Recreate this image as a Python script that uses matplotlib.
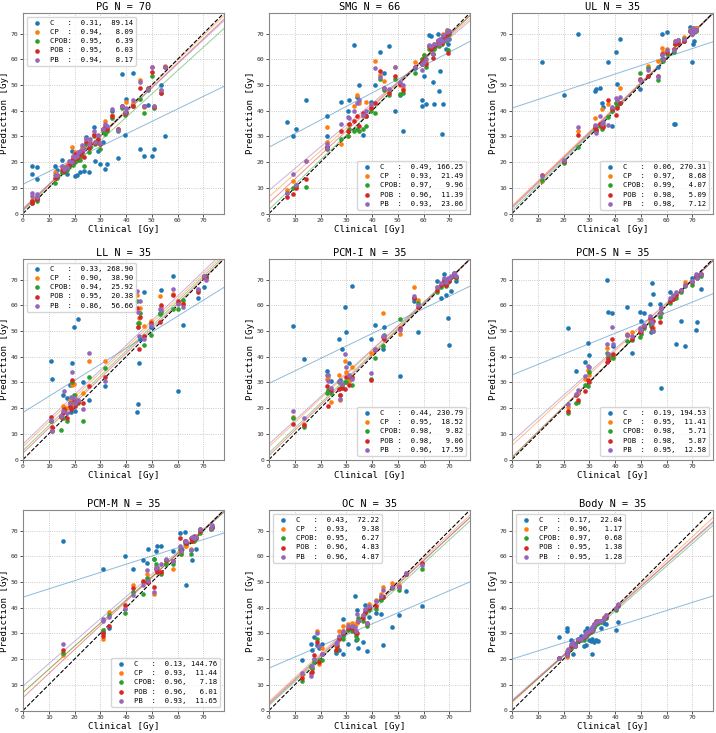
import numpy as np
import matplotlib
matplotlib.use("Agg")
import matplotlib.pyplot as plt

plt.rcParams['font.family'] = ['DejaVu Sans Mono']

# ── series ────────────────────────────────────────────────────────────────────
SERIES = ["C", "CP", "CPOB", "POB", "PB"]
COLORS = ["#1f77b4", "#ff7f0e", "#2ca02c", "#d62728", "#9467bd"]

# ── PG ────────────────────────────────────────────────────────────────────────
pg_x    = [3.5, 3.5, 5.5, 5.5, 12.5, 13, 15, 16, 17, 18, 19, 19.5, 20, 21, 21.5, 22, 23, 23.5, 24.5, 25.5,
           26, 27.5, 28, 29, 30, 31, 32, 32.5, 34.5, 37, 38.5, 39.5, 40, 42.5, 45.5, 47, 48.5, 50, 50.7, 53.5, 55]
pg_c    = [18.5, 15.2, 18.1, 13.3, 18.5, 17, 21, 18, 15.2, 19, 24.4, 22, 14.5, 15, 22.5, 16, 25, 16.5, 29.9, 16,
           26, 33.5, 20.3, 24.5, 19.4, 28, 17.5, 19.4, 40, 21.4, 54.4, 30.7, 44.7, 54.5, 25, 22.3, 42.4, 22.3, 25, 50, 30]
pg_cp   = [5.2, 4.5, 6, 7, 16, 15, 18, 17, 19, 20, 26, 22, 24, 22, 23.5, 24, 26, 26, 29, 27,
           28, 31, 28, 30, 27, 33, 36, 33, 38.5, 33, 42, 39, 43.5, 43, 52, 41.5, 48.5, 57, 42, 48, 57.5]
pg_cpob = [4.5, 4, 5, 5.5, 12, 14, 16, 16, 17, 18, 20, 19, 20, 21, 21, 21, 22.5, 18.5, 27, 24,
           26, 30, 27, 28, 25, 32, 31, 32, 37, 32, 41, 38.5, 39, 42, 44.5, 39, 48, 53.5, 41, 47, 57]
pg_pob  = [4.8, 4.2, 5.5, 6, 14, 14.5, 17, 16.5, 18, 19, 21, 20, 23, 21.5, 22, 23, 24, 22, 28, 25.5,
           27, 30.5, 27.5, 29, 27, 33, 34, 33, 38, 33, 42, 39, 39.5, 42, 49, 42, 49, 55, 41.5, 47, 57]
pg_pb   = [6.7, 8, 7.5, 6.5, 15, 15, 18.5, 17.5, 18, 20.5, 20, 22.5, 22, 22.5, 24, 24.5, 26.5, 25, 29, 27,
           29, 32, 28, 30.5, 27.6, 33, 35, 34, 40.5, 32.5, 42, 39.5, 41, 44, 51, 42, 48.5, 57, 42, 48, 57]
pg_b    = [11.4, 1.5, 1.0, 1.5, 2.0]
pg_m    = [0.488, 0.968, 0.91, 0.95, 0.936]
pg_r    = [0.31, 0.94, 0.95, 0.95, 0.94]
pg_mse  = [89.14, 8.09, 6.39, 6.03, 8.17]

# ── SMG ───────────────────────────────────────────────────────────────────────
smg_x    = [7, 9.5, 10.5, 14.5, 22.5, 22.5, 28, 30.5, 31, 33, 34, 35, 36.5, 37.5, 39.5, 41, 43, 44.5, 46.5, 49,
            51, 52, 56.5, 59.5, 59.5, 60, 61, 62, 63, 63.5, 64, 65.5, 66, 66.3, 67, 67.5, 68.5, 69, 69.5, 70]
smg_c    = [35.5, 30.3, 33, 44, 38, 30, 43.5, 40, 44, 65.5, 45.5, 50, 30.5, 38, 43.5, 50, 63, 54.5, 65, 40,
            46, 32, 56.5, 44, 42, 53.5, 42.5, 69.5, 69, 51, 42.5, 70, 47.5, 55.5, 31, 42.5, 64, 71.5, 66, 68]
smg_cp   = [9, 12.5, 11, 20.5, 33.5, 28, 27, 30, 35, 42, 46, 43, 38, 43.5, 42, 59.5, 54, 51.5, 48, 57,
            50, 49, 59, 60, 58, 61.5, 59, 65, 65, 62, 66, 67, 66, 68, 67, 70, 68, 71, 69, 71]
smg_cpob = [8, 10, 10.5, 10.5, 25, 26, 29, 30, 33, 32, 33, 32, 33, 34, 40, 39, 52.5, 48, 46, 52.5,
            46.5, 47, 54.5, 60, 59, 61.5, 57, 64, 64, 62, 64, 66, 65, 66.5, 66, 68, 67, 69, 63.5, 70]
smg_pob  = [6.5, 7.5, 10, 13.5, 25.5, 26, 32, 32, 35, 36, 38, 34, 39, 38, 41, 43, 55.5, 49, 47, 53.5,
            50.5, 48, 57, 59, 58, 60, 58, 65, 64, 60.5, 65, 67, 66, 67.5, 66.5, 69, 68, 70, 62.5, 70.5]
smg_pb   = [8, 15.5, 11, 20.5, 25.5, 27, 35, 37.5, 37, 40, 43, 44, 38.5, 40, 42.5, 56.5, 53, 49, 48.5, 57,
            51, 50, 57, 58, 56, 59, 60, 65.5, 65, 62, 66, 67.5, 66, 68, 67, 69.5, 67.5, 70.5, 68, 71]
smg_b    = [25.8, 6.5, 1.5, 4.0, 9.0]
smg_m    = [0.528, 0.89, 0.968, 0.936, 0.846]
smg_r    = [0.49, 0.93, 0.97, 0.96, 0.93]
smg_mse  = [166.25, 21.49, 9.96, 11.39, 23.06]

# ── UL ────────────────────────────────────────────────────────────────────────
ul_x    = [11.7, 20.2, 25.5, 32.2, 32.5, 34.2, 35.1, 35.5, 37.2, 38.8, 40.3, 40.6, 41.8, 49.5, 52.7, 56.8, 58.2,
           58.5, 60.2, 62.7, 63.2, 64.6, 66.6, 69, 69.8, 70.2, 70.5, 71.4]
ul_c    = [59, 46, 70, 47.5, 48.5, 48.7, 42.8, 41.5, 59, 34.2, 62.8, 50.5, 68, 48.5, 53.5, 57, 70,
           60, 70.5, 35, 35, 67.5, 67, 72.5, 59, 66, 67, 72]
ul_cp   = [12.5, 20, 32, 37, 33, 35, 40.5, 35, 42.5, 41, 43, 44, 49, 52, 57.5, 59.5, 64.5,
           63, 64, 64, 67, 67.5, 68.5, 71.5, 71, 72, 71, 72]
ul_cpob = [13, 19.5, 26, 33, 32, 34, 33, 34, 37.5, 40, 43, 42, 43, 54.5, 56.5, 52, 60,
           59.5, 62, 63, 66, 66.5, 68, 71, 70.5, 71, 70.5, 71]
ul_pob  = [15, 20.5, 30.5, 33.5, 32.5, 35, 34, 33.5, 44, 40.5, 38.5, 41, 43, 52.5, 53.5, 53.5, 62,
           60, 63, 64, 66, 66.5, 67, 71, 70, 71.5, 71, 71.5]
ul_pb   = [14.5, 21, 33.5, 34.5, 31.5, 38, 35, 35.5, 34.5, 41.5, 45, 44, 45.5, 52, 56, 53, 61.5,
           60, 63.5, 63.5, 67, 67.5, 68, 71, 70, 72, 71, 71.5]
ul_b    = [41.0, 3.0, 1.0, 2.5, 2.0]
ul_m    = [0.331, 0.96, 0.99, 0.965, 0.97]
ul_r    = [0.06, 0.97, 0.99, 0.98, 0.98]
ul_mse  = [270.31, 8.68, 4.07, 5.09, 7.12]

# ── LL ────────────────────────────────────────────────────────────────────────
ll_x    = [10.7, 11.4, 14.6, 15.5, 15.9, 17.2, 18.3, 18.6, 19, 19.6, 20.3, 21.3, 23.4, 25.5, 31.8, 44.3, 44.6,
           45, 45.5, 47, 49.5, 53, 53.6, 58.4, 60.3, 62.1, 67.8, 70.3, 71]
ll_c    = [38.5, 31.5, 17, 25, 20, 24, 29, 18.5, 37.5, 51.5, 19, 54.5, 30, 23, 28.5, 18.5, 21.5,
           37.5, 47, 65, 51.5, 57, 66, 71.5, 26.5, 52.5, 63, 67, 71.5]
ll_cp   = [15, 11.5, 17, 21, 20, 20, 23, 22, 29, 29.5, 25, 23, 26, 38.5, 38.5, 64, 51.5,
           55, 59, 52, 54, 63.5, 59.5, 64.5, 61, 61, 66, 71, 71]
ll_cpob = [15, 11, 11.5, 16, 19, 15, 22, 20, 30, 25, 22, 22, 15, 32, 35.5, 61.5, 53,
           53, 57, 44.5, 48.5, 56.5, 57.5, 58.5, 58.5, 62, 66, 71.5, 70.5]
ll_pob  = [16.5, 12.5, 16.5, 18, 19.5, 16, 21, 19.5, 31, 23, 21, 22.5, 22, 28.5, 32, 59, 51.5,
           43, 55.5, 48, 53, 53.5, 60, 64, 61.5, 60.5, 65, 71, 71]
ll_pb   = [15.5, 11, 17, 19, 26.8, 18, 22, 24.5, 34, 24, 22, 23, 19.5, 41.5, 30.5, 65.5, 57.5,
           48, 61.5, 47, 52.5, 58.5, 58, 66.5, 60.5, 59.5, 66.5, 71.5, 70]
ll_b    = [18.3, 5.0, 3.5, 2.5, 6.0]
ll_m    = [0.624, 0.96, 0.968, 0.97, 0.96]
ll_r    = [0.33, 0.90, 0.94, 0.95, 0.86]
ll_mse  = [268.90, 38.90, 25.92, 20.38, 56.66]

# ── PCM-I ─────────────────────────────────────────────────────────────────────
pcmi_x    = [9.4, 13.6, 22.7, 23, 24, 27.2, 27.7, 28.3, 29.6, 30, 31.2, 32.4, 39.4, 41.1, 44.4, 44.8, 50.8,
             56.4, 57.7, 65.3, 66.8, 68.1, 68.5, 69.6, 70, 70.6, 71.8, 72.7]
pcmi_c    = [52, 39, 34.5, 33, 30.5, 47, 31, 43, 59.5, 49.5, 37.5, 67.5, 47, 52.5, 43, 51.5, 32.5,
             61.5, 49.5, 69.5, 63, 72, 64, 55, 44.5, 65.5, 72.5, 69.5]
pcmi_cp   = [16.5, 14, 31.5, 32, 22.5, 33, 23, 29, 38.5, 34, 30.5, 36, 41.5, 43, 57, 48, 49,
             67, 62, 67, 68, 70, 68, 70, 70, 71, 72, 71]
pcmi_cpob = [16, 12.5, 26, 27, 26, 30, 25, 28.5, 30, 30, 32.5, 29, 31.5, 39.5, 44, 48.5, 54.5,
             63, 61, 65, 67, 69, 67.5, 69, 69.5, 71, 71.5, 70.5]
pcmi_pob  = [14, 13.5, 28.5, 21, 27, 27.5, 25, 28, 27.5, 32, 29, 32, 31, 42.5, 47.5, 47, 51,
             63, 59.5, 66, 68, 70, 68, 70, 69.5, 71, 72, 71]
pcmi_pb   = [19, 16, 33, 30.5, 28, 30.5, 23.5, 29.5, 41, 36, 33, 31.5, 33.5, 43, 48, 48, 50.5,
             63.5, 60, 67, 68.5, 70.5, 69, 70.5, 70.5, 71.5, 72.5, 71.5]
pcmi_b    = [29.6, 5.0, 2.5, 1.5, 6.0]
pcmi_m    = [0.485, 0.935, 0.97, 0.98, 0.92]
pcmi_r    = [0.44, 0.95, 0.98, 0.98, 0.96]
pcmi_mse  = [230.79, 18.52, 9.82, 9.06, 17.59]

# ── PCM-S ─────────────────────────────────────────────────────────────────────
pcms_x    = [21.8, 24.8, 25.7, 28.4, 29.6, 30, 36.9, 37.2, 38.7, 39, 44.8, 46.5, 49.7, 50, 51.4, 53.5, 53.8,
             54.4, 54.6, 57.6, 58, 61.3, 62.5, 63.5, 65.4, 67.1, 69.8, 71.3, 71.6, 73.3]
pcms_c    = [51.3, 34.5, 26, 38, 45.5, 40.5, 70, 57.5, 57, 44, 59.5, 41.5, 57.5, 54, 57, 60.5, 49.5,
             68.5, 64.5, 60.5, 28, 65, 63, 45, 54, 44, 70.5, 50.5, 53.5, 66.5]
pcms_cp   = [20.5, 25, 26, 31.5, 35, 33, 43.5, 41, 40, 40, 49, 49.5, 50.5, 50, 52, 54, 53,
             52, 51, 56, 58.5, 62, 63.5, 64.5, 66, 69, 69.5, 71.5, 71, 72]
pcms_cpob = [18, 22, 22.5, 29, 28.5, 34, 41.5, 40, 40.5, 39.5, 46, 46.5, 47.5, 49, 51, 53, 52,
             50, 50, 55.5, 57, 61, 62.5, 63, 65, 67.5, 68, 71, 70.5, 71.5]
pcms_pob  = [19, 25, 23, 26.5, 31, 30, 38, 39, 47, 41, 48.5, 47, 49.5, 50, 52, 55, 53.5,
             51, 54, 53.5, 59, 61.5, 62.5, 64, 66, 68, 69, 71.5, 71, 72]
pcms_pb   = [21.5, 25.5, 27, 32.5, 36.5, 36, 45, 41, 51.5, 45, 48.5, 48, 51, 50.5, 52.5, 56, 54,
             53, 50, 57, 59, 63, 64, 65, 66, 68, 69.5, 72, 70.5, 72]
pcms_b    = [32.9, 5.5, 0.5, 1.0, 7.0]
pcms_m    = [0.405, 0.92, 0.99, 0.98, 0.9]
pcms_r    = [0.19, 0.95, 0.98, 0.98, 0.95]
pcms_mse  = [194.53, 11.41, 5.71, 5.87, 12.58]

# ── PCM-M ─────────────────────────────────────────────────────────────────────
pcmm_x    = [15.5, 30.9, 31.2, 33.5, 39.4, 42.5, 46.6, 48.3, 48.7, 51, 51.5, 52, 53.7, 55.4, 58.4, 61, 61.3,
             62.8, 63.4, 65.1, 65.5, 66.4, 67, 68.7, 72.8, 73.5]
pcmm_c    = [66, 55, 31, 32, 60, 55, 58.5, 57.5, 63, 59, 62, 64, 64, 57, 62, 69, 63,
             69.5, 49, 62.5, 58.5, 68, 63, 70.5, 71, 71.5]
pcmm_cp   = [21.5, 28, 30, 38.5, 40, 49, 50, 53, 51, 45.5, 56, 55, 54, 58, 55, 62, 61,
             66, 64, 63, 67, 67, 68, 70, 70.5, 71.5]
pcmm_cpob = [22.5, 31.5, 30, 37, 38, 46, 45.5, 51.5, 50, 59, 57, 54.5, 53, 57, 57, 63, 61,
             65, 65, 61, 66, 66, 67, 69, 70.5, 71]
pcmm_pob  = [23.5, 30, 29, 33, 41, 47.5, 50.5, 50, 50, 48, 55, 54, 54, 58.5, 58, 67, 62,
             66, 65, 67, 66, 67.5, 67, 70, 71, 71.5]
pcmm_pb   = [26, 35.5, 35, 36.5, 39.5, 45, 49, 54.5, 50.5, 46, 55.5, 56, 57, 59, 58, 64, 62,
             66, 66, 62.5, 67.5, 67, 67.5, 70.5, 71, 72]
pcmm_b    = [44.1, 7.0, 7.0, 5.0, 9.5]
pcmm_m    = [0.32, 0.9, 0.9, 0.935, 0.87]
pcmm_r    = [0.13, 0.93, 0.96, 0.96, 0.93]
pcmm_mse  = [144.76, 11.44, 7.18, 6.01, 11.65]

# ── OC ────────────────────────────────────────────────────────────────────────
oc_x    = [12.7, 16.2, 16.5, 17.6, 18.8, 19.4, 20.6, 25.9, 26.2, 27.1, 28.6, 28.9, 30.6, 32.1, 33.3, 33.6, 34.2,
           34.5, 36.3, 37.3, 38, 38.7, 41.7, 43.3, 44.2, 47.7, 50.3, 53.1, 59.2]
oc_c    = [19.5, 26, 23.5, 28.5, 25.5, 24.5, 26, 22.5, 24, 23.5, 35.5, 22, 26, 33, 44.5, 27.5, 39,
           24.5, 26.5, 41, 23, 36.5, 38, 37.5, 25.5, 32.5, 37, 46.5, 40.5]
oc_cp   = [14, 17, 16, 20, 31, 18, 24.5, 25, 26, 31, 33, 31, 33.5, 34, 33, 31, 34,
           35, 37, 39, 33.5, 41.5, 43, 45.5, 48, 49.5, 49, 53.5, 57]
oc_cpob = [11.5, 17.5, 16.5, 19, 28, 19.5, 19.5, 23, 24, 28.5, 28, 29, 31.5, 31, 30.5, 29, 28,
           36, 35, 38, 33, 39, 39.5, 43, 44, 47.5, 47, 53, 55]
oc_pob  = [12.5, 14.5, 15, 21.5, 26.5, 19, 22, 23.5, 25, 28, 30, 30, 32, 32, 31, 30, 30,
           35, 36, 38.5, 34, 40, 40.5, 44, 44, 48, 48, 53, 57.5]
oc_pb   = [14.5, 13.5, 17.5, 20, 30, 25, 22, 26, 26.5, 29, 31, 30.5, 33, 33, 32.5, 31, 37.5,
           35, 37, 39.5, 34, 40.5, 42.5, 44.5, 47, 48, 48, 53.5, 56.5]
oc_b    = [16.5, 3.5, 2.0, 2.5, 3.0]
oc_m    = [0.43, 0.93, 0.92, 0.93, 0.925]
oc_r    = [0.43, 0.93, 0.95, 0.96, 0.96]
oc_mse  = [72.22, 9.38, 6.27, 4.83, 4.87]

# ── Body ──────────────────────────────────────────────────────────────────────
body_x    = [18.3, 21.3, 21.5, 21.8, 22.9, 23.2, 23.6, 24.4, 25.7, 26.7, 28, 28.3, 28.9, 29.2, 29.8, 30.6, 30.9,
             31.1, 31.4, 31.9, 32.7, 33.5, 34.5, 35.8, 36.3, 40.3, 41.2]
body_c    = [28.5, 32, 31, 23, 27.5, 26, 21.8, 26, 28, 29, 25, 31, 25.5, 32, 27.5, 27, 28,
             21.8, 32.5, 26.5, 27.5, 27, 32, 34, 33.5, 31.5, 34.5]
body_cp   = [20.5, 21, 22, 23, 25, 25.5, 25.5, 25, 27.5, 28, 28.5, 29, 29.5, 30, 30, 31, 31.5,
             32, 32, 33, 34, 34.5, 35, 36.5, 37, 40, 41]
body_cpob = [20.5, 21.5, 22.5, 23, 24.5, 25, 25, 25, 27, 27.5, 27.5, 28.5, 29, 29.5, 30, 30.5, 31,
             31.5, 31.5, 32.5, 33.5, 34, 34.5, 35.5, 36, 39, 40.5]
body_pob  = [20.5, 21.5, 22.5, 23.5, 25, 25.5, 26, 25, 27.5, 28, 28.5, 29, 29.5, 30.5, 30.5, 31, 31.5,
             32, 32.5, 33.5, 35, 35, 35, 36, 36.5, 40, 41]
body_pb   = [20.5, 21.5, 23, 24, 26, 26, 26.5, 25, 28, 28, 29, 29.5, 30, 30.5, 31, 31.5, 31.5,
             32.5, 33, 33.5, 34.5, 35, 35, 36, 37, 40, 41.5]
body_b    = [20.0, 3.0, 3.5, 3.5, 4.0]
body_m    = [0.315, 0.923, 0.878, 0.897, 0.885]
body_r    = [0.17, 0.96, 0.97, 0.95, 0.95]
body_mse  = [22.04, 1.17, 0.68, 1.38, 1.28]

PANELS = [
    ("PG",    70, pg_x,   [pg_c, pg_cp, pg_cpob, pg_pob, pg_pb],             pg_b,   pg_m,   pg_r,   pg_mse,   "upper left"),
    ("SMG",   66, smg_x,  [smg_c, smg_cp, smg_cpob, smg_pob, smg_pb],        smg_b,  smg_m,  smg_r,  smg_mse,  "lower right"),
    ("UL",    35, ul_x,   [ul_c, ul_cp, ul_cpob, ul_pob, ul_pb],             ul_b,   ul_m,   ul_r,   ul_mse,   "lower right"),
    ("LL",    35, ll_x,   [ll_c, ll_cp, ll_cpob, ll_pob, ll_pb],             ll_b,   ll_m,   ll_r,   ll_mse,   "upper left"),
    ("PCM-I", 35, pcmi_x, [pcmi_c, pcmi_cp, pcmi_cpob, pcmi_pob, pcmi_pb],   pcmi_b, pcmi_m, pcmi_r, pcmi_mse, "lower right"),
    ("PCM-S", 35, pcms_x, [pcms_c, pcms_cp, pcms_cpob, pcms_pob, pcms_pb],   pcms_b, pcms_m, pcms_r, pcms_mse, "lower right"),
    ("PCM-M", 35, pcmm_x, [pcmm_c, pcmm_cp, pcmm_cpob, pcmm_pob, pcmm_pb],   pcmm_b, pcmm_m, pcmm_r, pcmm_mse, "lower right"),
    ("OC",    35, oc_x,   [oc_c, oc_cp, oc_cpob, oc_pob, oc_pb],             oc_b,   oc_m,   oc_r,   oc_mse,   "upper left"),
    ("Body",  35, body_x, [body_c, body_cp, body_cpob, body_pob, body_pb],   body_b, body_m, body_r, body_mse, "upper left"),
]

# ── figure ────────────────────────────────────────────────────────────────────
W, H = 716, 733
fig = plt.figure(figsize=(W / 100, H / 100), dpi=100)

col_left = [23, 269, 512]
row_top  = [13, 259, 510]
aw, ah   = 201, 200.5
LIM      = 78

for k, (name, n, x, preds, bs, ms, rs, mses, loc) in enumerate(PANELS):
    i, j = divmod(k, 3)
    ax = fig.add_axes([col_left[j] / W, 1 - (row_top[i] + ah) / H, aw / W, ah / H])

    for s, (lab, col, y) in enumerate(zip(SERIES, COLORS, preds)):
        ax.scatter(x, y, s=11, color=col, lw=0, zorder=3,
                   label=f"{lab:4s}: {rs[s]:5.2f}, {mses[s]:6.2f}")
    for s, col in enumerate(COLORS):
        ax.axline((0, bs[s]), slope=ms[s], color=col, lw=0.7, alpha=0.5, zorder=2)
    ax.axline((0, 0), slope=1, color="k", ls="--", lw=0.8, zorder=2)

    ax.set_xlim(0, LIM); ax.set_ylim(0, LIM)
    ax.set_xticks(range(0, 80, 10)); ax.set_yticks(range(0, 80, 10))
    ax.tick_params(labelsize=4.6, length=2, width=0.6, pad=1.5, colors="#333333")
    ax.grid(ls=":", color="#bbbbbb", lw=0.6)
    for sp in ax.spines.values():
        sp.set_color("#888888"); sp.set_linewidth(0.8)

    ax.set_title(f"{name} N = {n}", fontsize=7.4, pad=2)
    ax.set_xlabel("Clinical [Gy]", fontsize=6.6, labelpad=1)
    ax.set_ylabel("Prediction [Gy]", fontsize=6.6, labelpad=1)
    ax.legend(loc=loc, fontsize=5.2, scatterpoints=1, markerscale=1.0,
              handletextpad=0.8, borderaxespad=0.5, labelspacing=0.45)

fig.savefig("out.png", dpi=100)
